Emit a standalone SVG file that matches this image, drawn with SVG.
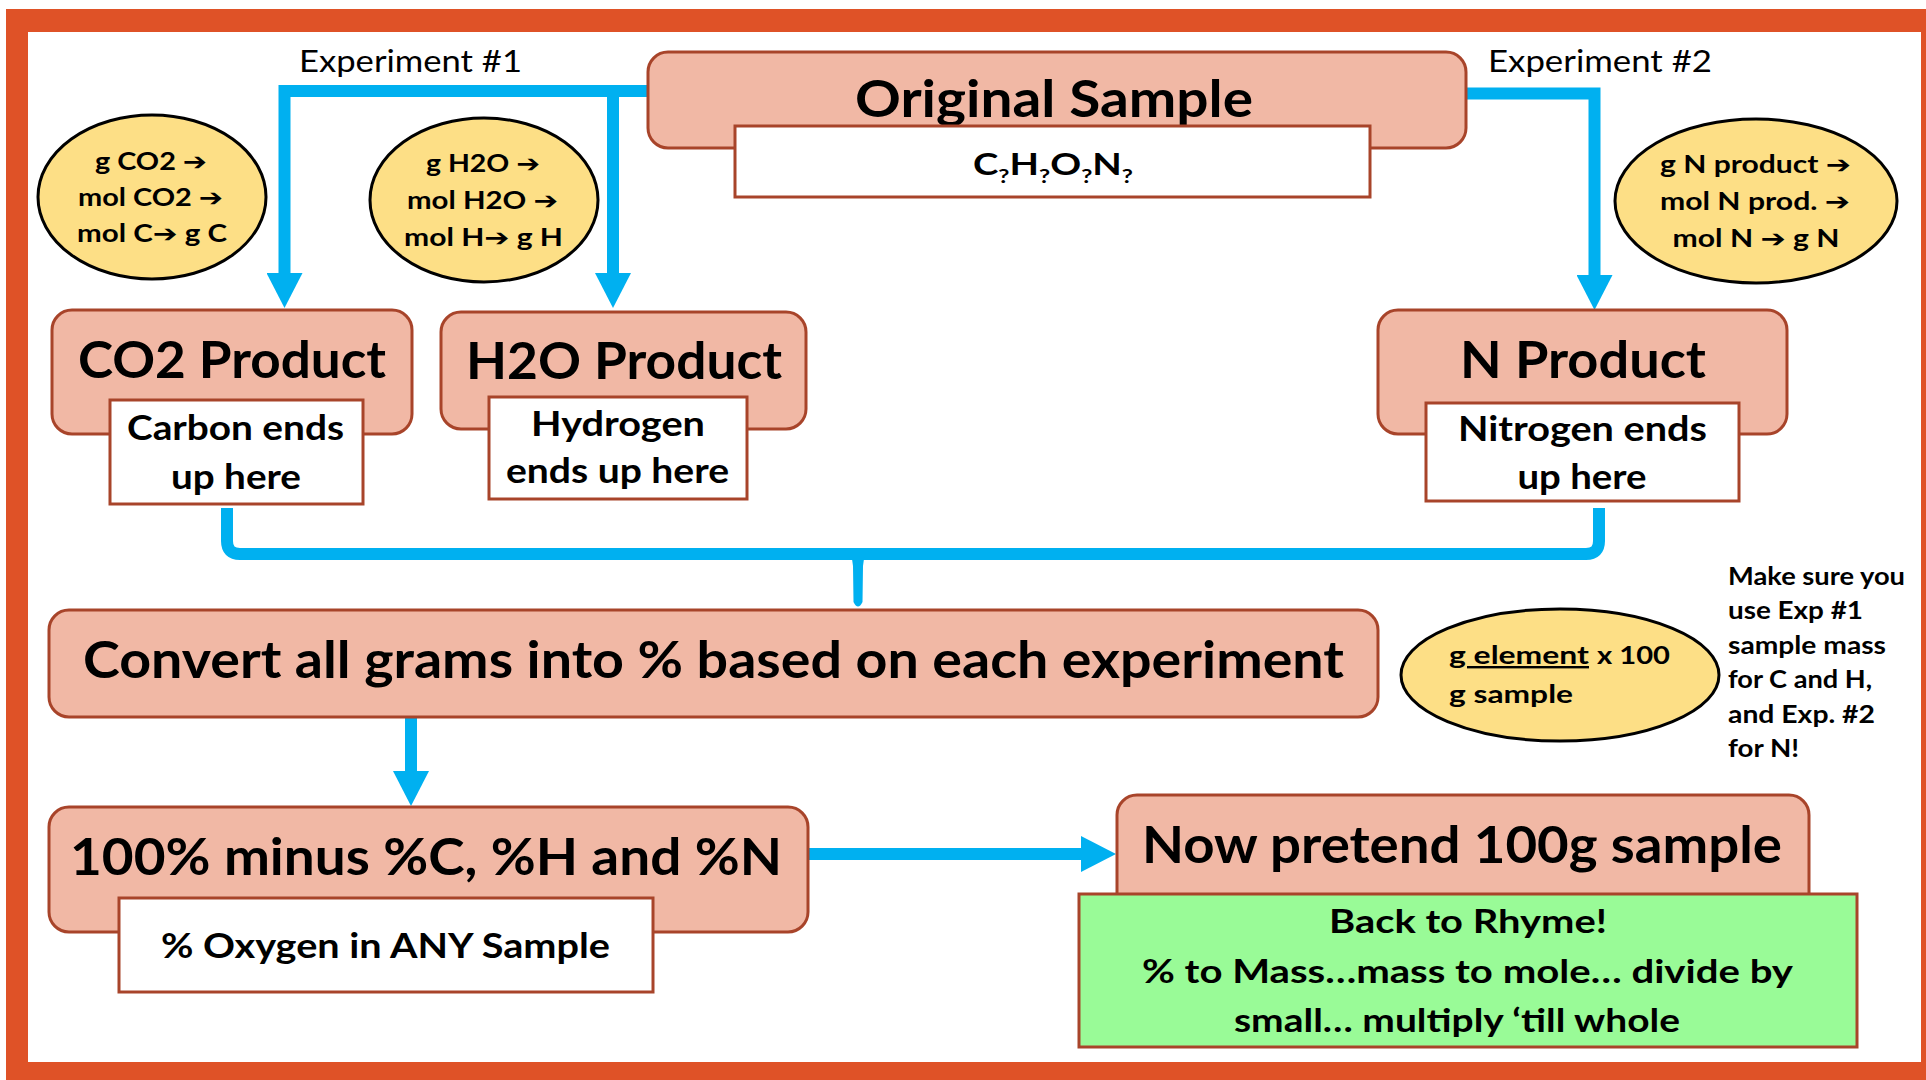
<svg xmlns="http://www.w3.org/2000/svg" width="1926" height="1080" viewBox="0 0 1926 1080">
<defs>
<style>
text{font-family:Lato,"Open Sans","Liberation Sans",sans-serif;fill:#000;text-anchor:middle}
.b{font-weight:700}
.n{font-weight:400}
.ar{font-family:"DejaVu Sans",sans-serif;font-weight:700}
.box{fill:#F1B8A5;stroke:#A8442A;stroke-width:3}
.wbox{fill:#fff;stroke:#A8442A;stroke-width:3}
.gbox{fill:#99FB97;stroke:#A8442A;stroke-width:3}
.ell{fill:#FDDF86;stroke:#000;stroke-width:3}
.conn{stroke:#00B0F0;stroke-width:12;fill:none}
.spike{fill:#00B0F0;stroke:none}
.t52{font-size:52px}
.t35{font-size:35px}
.t32{font-size:32px}
.t24{font-size:24px}
.t31{font-size:31px}
.l{text-anchor:start}
</style>
<marker id="ah" markerUnits="userSpaceOnUse" markerWidth="36" markerHeight="36" refX="0" refY="18" orient="auto" viewBox="0 0 36 36">
<path d="M0,0 L35,18 L0,36 z" fill="#00B0F0"/>
</marker>
</defs>
<rect width="1926" height="1080" fill="#fff"/>
<rect x="6" y="9" width="1930" height="1090" fill="#DF5227"/>
<rect x="28" y="32" width="1893" height="1030" fill="#fff"/>

<g id="connectors">
<path class="conn" d="M648,91 H284.5 V273" marker-end="url(#ah)"/>
<path class="conn" d="M613,91 V273" marker-end="url(#ah)"/>
<path class="conn" d="M1466,93.5 H1594.5 V275" marker-end="url(#ah)"/>
<path class="conn" d="M227,508 V541 Q227,554 240,554 H1586 Q1599,554 1599,541 V508"/>
<path class="spike" d="M844,550 Q852,552 853,566 L853.5,602 Q858,611 862.5,602 L863,566 Q864,552 872,550 Z"/>
<path class="conn" d="M411,717 V771" marker-end="url(#ah)"/>
<path class="conn" d="M808,854 H1081" marker-end="url(#ah)"/>
</g>

<g id="label-exp1"><text class="n t31" x="410.5" y="72" textLength="223" lengthAdjust="spacingAndGlyphs">Experiment #1</text></g>
<g id="label-exp2"><text class="n t31" x="1600" y="72" textLength="224" lengthAdjust="spacingAndGlyphs">Experiment #2</text></g>

<g id="original-sample">
<rect class="box" x="648" y="52" width="818" height="96" rx="20"/>
<text class="b t52" x="1054" y="117" textLength="398" lengthAdjust="spacingAndGlyphs">Original Sample</text>
<rect class="wbox" x="735" y="126" width="635" height="71"/>
<text class="b" x="1053" y="175" font-size="30" textLength="160" lengthAdjust="spacingAndGlyphs">C<tspan font-size="19" dy="8">?</tspan><tspan dy="-8">H</tspan><tspan font-size="19" dy="8">?</tspan><tspan dy="-8">O</tspan><tspan font-size="19" dy="8">?</tspan><tspan dy="-8">N</tspan><tspan font-size="19" dy="8">?</tspan></text>
</g>

<g id="ellipse-co2">
<ellipse class="ell" cx="152" cy="197" rx="114" ry="82"/>
<text class="b t24" x="151" y="170" textLength="112" lengthAdjust="spacingAndGlyphs">g CO2 <tspan class="ar">➔</tspan></text>
<text class="b t24" x="150.5" y="206" textLength="145" lengthAdjust="spacingAndGlyphs">mol CO2 <tspan class="ar">➔</tspan></text>
<text class="b t24" x="152" y="242" textLength="150" lengthAdjust="spacingAndGlyphs">mol C<tspan class="ar">➔</tspan> g C</text>
</g>

<g id="ellipse-h2o">
<ellipse class="ell" cx="484" cy="200" rx="114" ry="82"/>
<text class="b t24" x="483" y="172" textLength="114" lengthAdjust="spacingAndGlyphs">g H2O <tspan class="ar">➔</tspan></text>
<text class="b t24" x="482.5" y="209" textLength="151" lengthAdjust="spacingAndGlyphs">mol H2O <tspan class="ar">➔</tspan></text>
<text class="b t24" x="483.5" y="246" textLength="159" lengthAdjust="spacingAndGlyphs">mol H<tspan class="ar">➔</tspan> g H</text>
</g>

<g id="ellipse-n">
<ellipse class="ell" cx="1756" cy="201" rx="141" ry="82"/>
<text class="b t24" x="1755.5" y="173" textLength="191" lengthAdjust="spacingAndGlyphs">g N product <tspan class="ar">➔</tspan></text>
<text class="b t24" x="1755" y="210" textLength="190" lengthAdjust="spacingAndGlyphs">mol N prod. <tspan class="ar">➔</tspan></text>
<text class="b t24" x="1756" y="247" textLength="167" lengthAdjust="spacingAndGlyphs">mol N <tspan class="ar">➔</tspan> g N</text>
</g>

<g id="co2-product">
<rect class="box" x="52" y="310" width="360" height="124" rx="20"/>
<text class="b t52" x="232" y="378" textLength="308" lengthAdjust="spacingAndGlyphs">CO2 Product</text>
<rect class="wbox" x="110" y="400" width="253" height="104"/>
<text class="b t35" x="235.5" y="440" textLength="217" lengthAdjust="spacingAndGlyphs">Carbon ends</text>
<text class="b t35" x="236" y="489" textLength="130" lengthAdjust="spacingAndGlyphs">up here</text>
</g>

<g id="h2o-product">
<rect class="box" x="441" y="312" width="365" height="117" rx="20"/>
<text class="b t52" x="624" y="379" textLength="316" lengthAdjust="spacingAndGlyphs">H2O Product</text>
<rect class="wbox" x="489" y="397" width="258" height="102"/>
<text class="b t35" x="618" y="436" textLength="174" lengthAdjust="spacingAndGlyphs">Hydrogen</text>
<text class="b t35" x="617.5" y="483" textLength="223" lengthAdjust="spacingAndGlyphs">ends up here</text>
</g>

<g id="n-product">
<rect class="box" x="1378" y="310" width="409" height="124" rx="20"/>
<text class="b t52" x="1583" y="378" textLength="246" lengthAdjust="spacingAndGlyphs">N Product</text>
<rect class="wbox" x="1426" y="403" width="313" height="98"/>
<text class="b t35" x="1582.5" y="441" textLength="249" lengthAdjust="spacingAndGlyphs">Nitrogen ends</text>
<text class="b t35" x="1582" y="489" textLength="129" lengthAdjust="spacingAndGlyphs">up here</text>
</g>

<g id="convert">
<rect class="box" x="49" y="610" width="1329" height="107" rx="20"/>
<text class="b t52" x="713.5" y="678" textLength="1261" lengthAdjust="spacingAndGlyphs">Convert all grams into % based on each experiment</text>
</g>

<g id="formula">
<ellipse class="ell" cx="1560" cy="675" rx="159" ry="66"/>
<text class="b t24 l" x="1449" y="664" textLength="140" lengthAdjust="spacingAndGlyphs" text-decoration="underline">g element</text>
<text class="b t24 l" x="1597" y="664" textLength="73" lengthAdjust="spacingAndGlyphs">x 100</text>
<text class="b t24 l" x="1449" y="703" textLength="124" lengthAdjust="spacingAndGlyphs">g sample</text>
</g>

<g id="note">
<text class="b t24 l" x="1728" y="585" textLength="177" lengthAdjust="spacingAndGlyphs">Make sure you</text>
<text class="b t24 l" x="1728" y="619" textLength="135" lengthAdjust="spacingAndGlyphs">use Exp #1</text>
<text class="b t24 l" x="1728" y="654" textLength="158" lengthAdjust="spacingAndGlyphs">sample mass</text>
<text class="b t24 l" x="1728" y="688" textLength="144" lengthAdjust="spacingAndGlyphs">for C and H,</text>
<text class="b t24 l" x="1728" y="723" textLength="147" lengthAdjust="spacingAndGlyphs">and Exp. #2</text>
<text class="b t24 l" x="1728" y="757" textLength="71" lengthAdjust="spacingAndGlyphs">for N!</text>
</g>

<g id="oxygen">
<rect class="box" x="49" y="807" width="759" height="125" rx="20"/>
<text class="b t52" x="426" y="875" textLength="712" lengthAdjust="spacingAndGlyphs">100% minus %C, %H and %N</text>
<rect class="wbox" x="119" y="898" width="534" height="94"/>
<text class="b t35" x="385.5" y="958" textLength="449" lengthAdjust="spacingAndGlyphs">% Oxygen in ANY Sample</text>
</g>

<g id="pretend">
<rect class="box" x="1117" y="795" width="692" height="130" rx="20"/>
<text class="b t52" x="1462" y="863" textLength="640" lengthAdjust="spacingAndGlyphs">Now pretend 100g sample</text>
<rect class="gbox" x="1079" y="894" width="778" height="153"/>
<text class="b t32" x="1468" y="933" textLength="278" lengthAdjust="spacingAndGlyphs">Back to Rhyme!</text>
<text class="b t32" x="1467.5" y="983" textLength="651" lengthAdjust="spacingAndGlyphs">% to Mass…mass to mole… divide by</text>
<text class="b t32" x="1457" y="1032" textLength="446" lengthAdjust="spacingAndGlyphs">small… multiply ‘till whole</text>
</g>
</svg>
